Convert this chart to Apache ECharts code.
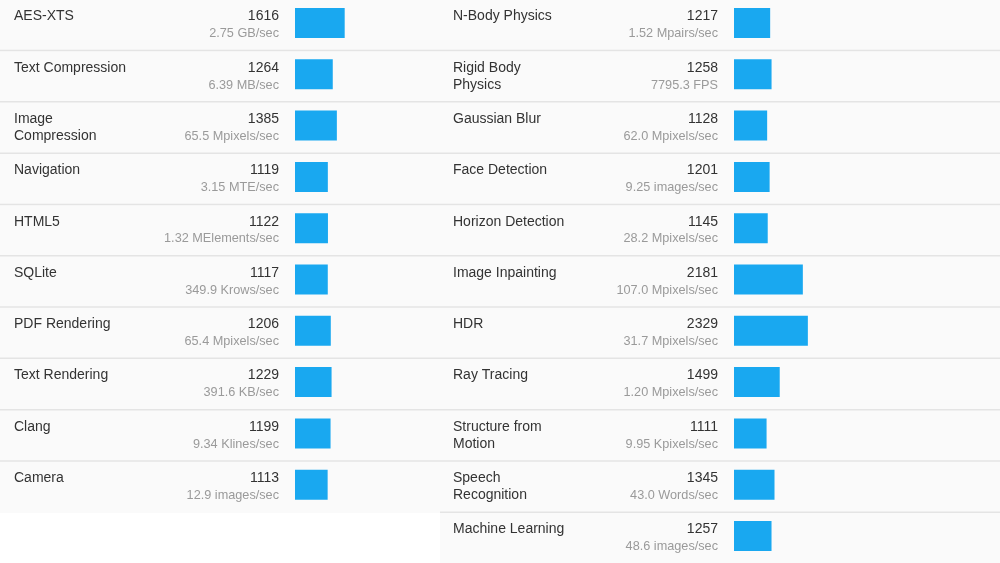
<!DOCTYPE html>
<html>
<head>
<meta charset="utf-8">
<style>
  html, body { margin: 0; padding: 0; background: #fff; }
  #chart { width: 1000px; height: 563px; }
</style>
<script src="https://cdn.jsdelivr.net/npm/echarts@6/dist/echarts.min.js"></script>
</head>
<body>
<div id="chart"></div>
<script>
// ---- data ----
const leftNames = ['AES-XTS', 'Text Compression', 'Image\nCompression', 'Navigation', 'HTML5',
  'SQLite', 'PDF Rendering', 'Text Rendering', 'Clang', 'Camera'];
const leftScores = [1616, 1264, 1385, 1119, 1122, 1117, 1206, 1229, 1199, 1113];
const leftUnits = ['2.75 GB/sec', '6.39 MB/sec', '65.5 Mpixels/sec', '3.15 MTE/sec', '1.32 MElements/sec',
  '349.9 Krows/sec', '65.4 Mpixels/sec', '391.6 KB/sec', '9.34 Klines/sec', '12.9 images/sec'];

const rightNames = ['N-Body Physics', 'Rigid Body\nPhysics', 'Gaussian Blur', 'Face Detection', 'Horizon Detection',
  'Image Inpainting', 'HDR', 'Ray Tracing', 'Structure from\nMotion', 'Speech\nRecognition', 'Machine Learning'];
const rightScores = [1217, 1258, 1128, 1201, 1145, 2181, 2329, 1499, 1111, 1345, 1257];
const rightUnits = ['1.52 Mpairs/sec', '7795.3 FPS', '62.0 Mpixels/sec', '9.25 images/sec', '28.2 Mpixels/sec',
  '107.0 Mpixels/sec', '31.7 Mpixels/sec', '1.20 Mpixels/sec', '9.95 Kpixels/sec', '43.0 Words/sec', '48.6 images/sec'];

// ---- layout ----
const ROW_H = 51.3;
const FONT = '"Liberation Sans", Arial, sans-serif';
const BAR_MIN = 150;   // bar axis start
const BAR_MAX = 3100;  // 100px grid => ~29.5 points / px

// row background + separator + texts
function rowRenderer(names, scores, units, textX) {
  return function (params, api) {
    const i = api.value(1);
    const c = api.coord([0, i]);
    const h = api.size([0, 1])[1];
    const cs = params.coordSys;
    const top = c[1] - h / 2;
    const children = [
      { type: 'rect', shape: { x: cs.x, y: top, width: cs.width, height: h }, style: { fill: '#fafafa' } },
      { type: 'text', style: { x: textX + 14, y: top + 8, text: names[i], font: '14px ' + FONT,
          fill: '#333', lineHeight: 17, verticalAlign: 'top', align: 'left' } },
      { type: 'text', style: { x: textX + 279, y: top + 16.5, text: String(scores[i]), font: '14px ' + FONT,
          fill: '#333', verticalAlign: 'middle', align: 'right' } },
      { type: 'text', style: { x: textX + 279, y: top + 33.7, text: units[i], font: '12.7px ' + FONT,
          fill: '#9a9a9a', verticalAlign: 'middle', align: 'right' } }
    ];
    if (i < names.length - 1) {
      children.push({ type: 'line', shape: { x1: cs.x, y1: top + h - 0.5, x2: cs.x + cs.width, y2: top + h - 0.5 },
        style: { stroke: '#e4e4e4', lineWidth: 2 } });
    }
    return { type: 'group', children };
  };
}

// score bar: from axis start to score, fixed offset inside the row
function barRenderer(params, api) {
  const i = api.value(1);
  const p0 = api.coord([BAR_MIN, i]);
  const p1 = api.coord([api.value(0), i]);
  const h = api.size([0, 1])[1];
  const top = p0[1] - h / 2;
  return { type: 'rect', shape: { x: p0[0], y: top + 8, width: p1[0] - p0[0], height: 30 },
    style: { fill: '#19a8f0' } };
}

const chart = echarts.init(document.getElementById('chart'));

const hiddenValue = (idx, min, max) => ({ type: 'value', gridIndex: idx, min, max, show: false });
const hiddenCat = (idx, list) => ({ type: 'category', gridIndex: idx, data: list, inverse: true, show: false });

chart.setOption({
  animation: false,
  grid: [
    { left: 0, top: 0, width: 440, height: ROW_H * leftNames.length, outerBoundsMode: 'none' },
    { left: 295, top: 0, width: 100, height: ROW_H * leftNames.length, outerBoundsMode: 'none' },
    { left: 440, top: 0, width: 560, height: ROW_H * rightNames.length, outerBoundsMode: 'none' },
    { left: 734, top: 0, width: 100, height: ROW_H * rightNames.length, outerBoundsMode: 'none' }
  ],
  xAxis: [
    hiddenValue(0, 0, 1), hiddenValue(1, BAR_MIN, BAR_MAX),
    hiddenValue(2, 0, 1), hiddenValue(3, BAR_MIN, BAR_MAX)
  ],
  yAxis: [
    hiddenCat(0, leftNames), hiddenCat(1, leftNames),
    hiddenCat(2, rightNames), hiddenCat(3, rightNames)
  ],
  series: [
    {
      type: 'custom', xAxisIndex: 0, yAxisIndex: 0, silent: true,
      data: leftNames.map((n, i) => [0, i]),
      renderItem: rowRenderer(leftNames, leftScores, leftUnits, 0)
    },
    {
      type: 'custom', xAxisIndex: 2, yAxisIndex: 2, silent: true,
      data: rightNames.map((n, i) => [0, i]),
      renderItem: rowRenderer(rightNames, rightScores, rightUnits, 439)
    },
    {
      type: 'custom', xAxisIndex: 1, yAxisIndex: 1, silent: true,
      data: leftScores.map((s, i) => [s, i]),
      renderItem: barRenderer
    },
    {
      type: 'custom', xAxisIndex: 3, yAxisIndex: 3, silent: true,
      data: rightScores.map((s, i) => [s, i]),
      renderItem: barRenderer
    }
  ]
});
</script>
</body>
</html>
